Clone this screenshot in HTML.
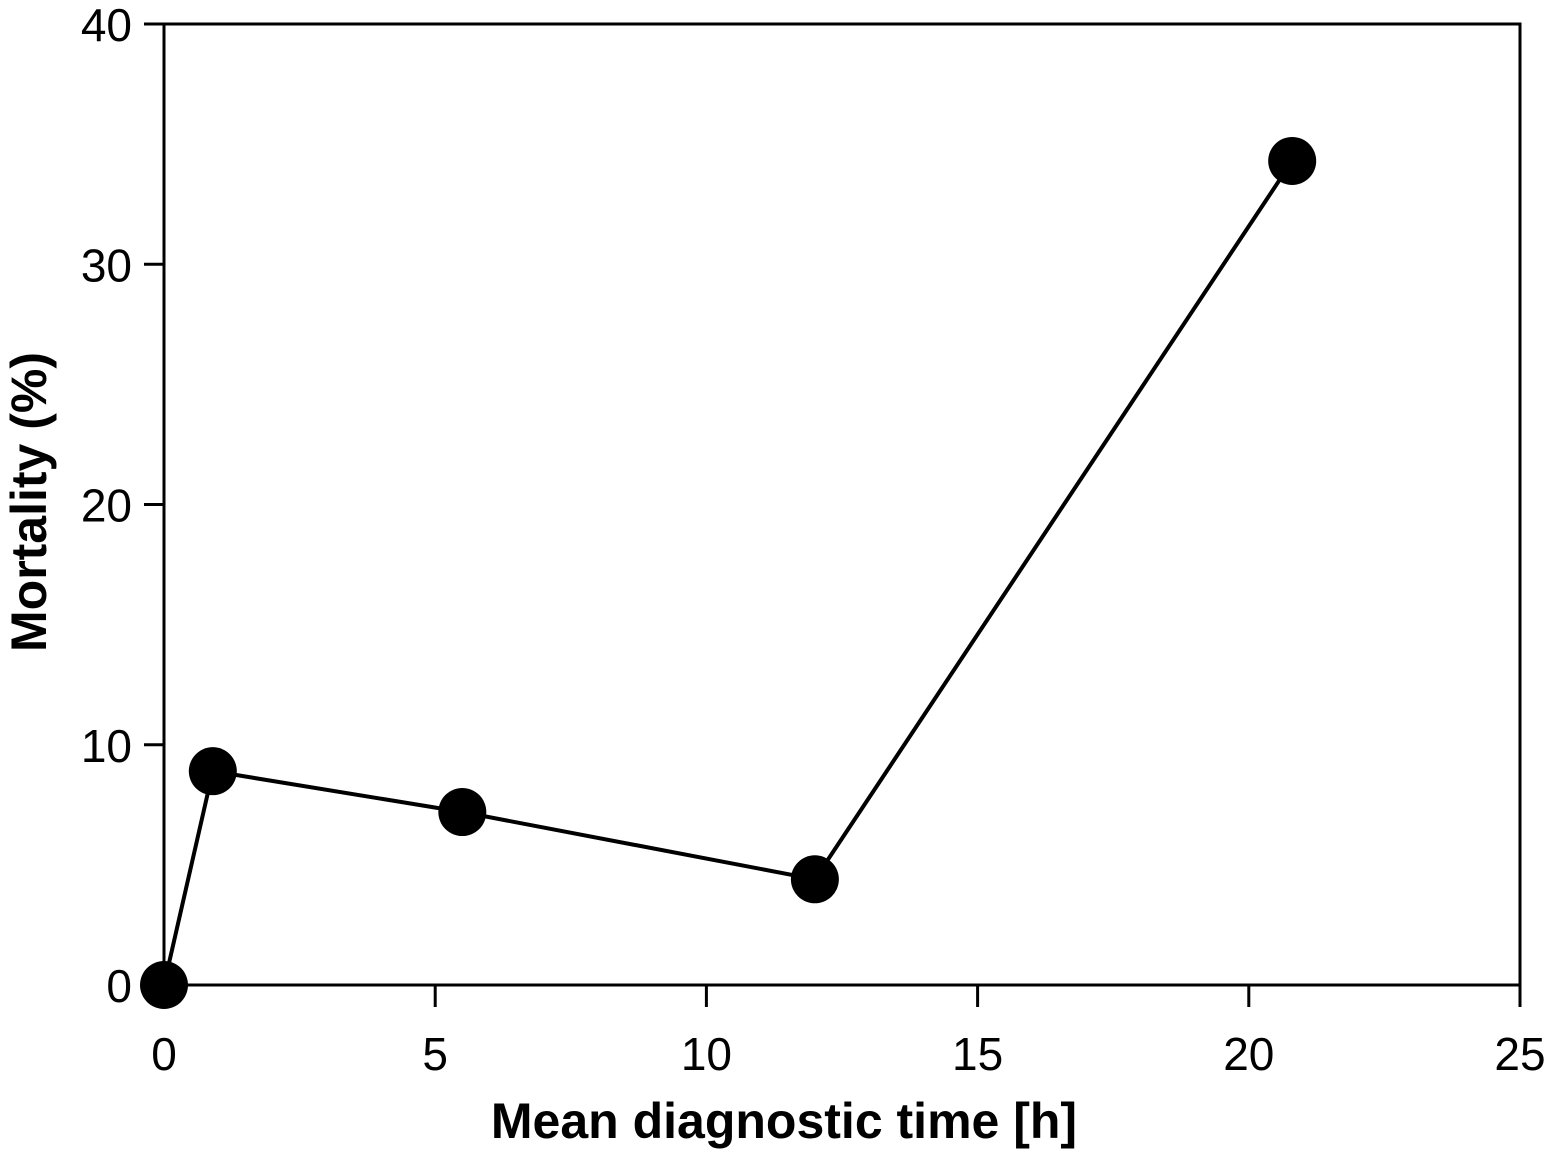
<!DOCTYPE html>
<html><head><meta charset="utf-8"><style>
html,body{margin:0;padding:0;background:#fff;}
svg text{font-family:"Liberation Sans",sans-serif;fill:#000;}
</style></head><body>
<svg id="chart" width="1556" height="1150" viewBox="0 0 1556 1150" xmlns="http://www.w3.org/2000/svg">
<rect x="164" y="24" width="1356" height="961" fill="none" stroke="#000" stroke-width="3"/>
<g id="axes"></g>
<g id="series"></g>
<text x="784" y="1138" text-anchor="middle" font-size="50" font-weight="bold">Mean diagnostic time [h]</text>
<text transform="translate(46,502) rotate(-90)" text-anchor="middle" font-size="50" font-weight="bold">Mortality (%)</text>
</svg>
<script>
const xTicks=[0,5,10,15,20,25];
const yTicks=[0,10,20,30,40];
const xValues=[0,0.9,5.5,12,20.8];
const yValues=[0,8.9,7.2,4.4,34.3];
const NS="http://www.w3.org/2000/svg";
const x0=164,x1=1520,y0=985,y1=24;
const sx=v=>x0+(v-0)/(25-0)*(x1-x0);
const sy=v=>y0-(v-0)/(40-0)*(y0-y1);
const axes=document.getElementById('axes'),ser=document.getElementById('series');
function mk(tag,attrs,parent){const e=document.createElementNS(NS,tag);for(const k in attrs)e.setAttribute(k,attrs[k]);parent.appendChild(e);return e;}
xTicks.forEach(t=>{
  const l=mk('line',{x1:sx(t),x2:sx(t),y1:y0,y2:y0+22,stroke:'#000','stroke-width':3},axes);
  
  
  const tx=mk('text',{x:sx(t),y:1070,'text-anchor':'middle','font-size':46},axes);
  tx.textContent=t;
  
  
});
yTicks.forEach(t=>{
  const l=mk('line',{x1:x0-20,x2:x0,y1:sy(t),y2:sy(t),stroke:'#000','stroke-width':3},axes);
  
  
  const tx=mk('text',{x:132,y:sy(t)+17,'text-anchor':'end','font-size':46},axes);
  tx.textContent=t;
  
  
});
const pts=xValues.map((v,i)=>sx(v)+','+sy(yValues[i])).join(' ');
const pl=mk('polyline',{points:pts,fill:'none',stroke:'#000','stroke-width':4},ser);


xValues.forEach((v,i)=>{
  const c=mk('circle',{cx:sx(v),cy:sy(yValues[i]),r:24,fill:'#000'},ser);
  
  
});
</script>
</body></html>
